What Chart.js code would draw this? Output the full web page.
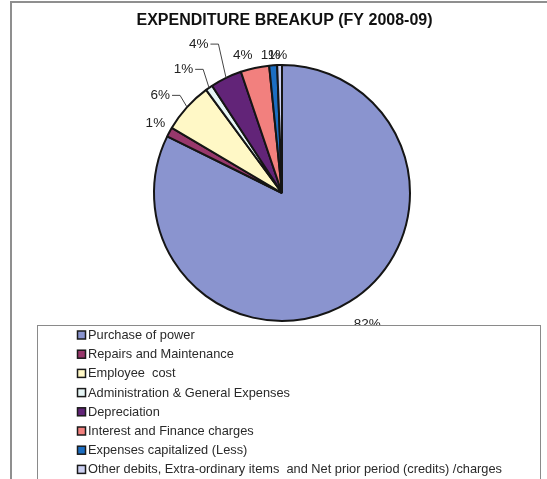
<!DOCTYPE html>
<html><head><meta charset="utf-8">
<script src="https://cdn.jsdelivr.net/npm/chart.js@4.4.0/dist/chart.umd.min.js"></script>
<style>html,body{margin:0;padding:0;background:#fff;}#wrap{width:547px;height:479px;position:relative;}</style>
</head><body><div id="wrap"><canvas id="c" width="547" height="479"></canvas></div>
<script>
const chartTitle = 'EXPENDITURE BREAKUP (FY 2008-09)';
const categories = [
  'Purchase of power',
  'Repairs and Maintenance',
  'Employee  cost',
  'Administration & General Expenses',
  'Depreciation',
  'Interest and Finance charges',
  'Expenses capitalized (Less)',
  'Other debits, Extra-ordinary items  and Net prior period (credits) /charges'
];
const shares = [82.3, 1.2, 6.4, 0.9, 4.0, 3.6, 1.0, 0.6];

// styles (kept apart from the data)
const sliceColors = ['#8A94CF', '#98386C', '#FFF8C6', '#E6F6F6', '#622478', '#F2807E', '#1C6EC2', '#CCD0F2'];
const labelGap   = [26, 16, 28, 31, 42, 15, 10, 10];
const labelNudge = [[4,0],[0,-1],[-6,7],[-8,7],[-9,4],[-9,2],[-2,0],[-2,0]];
const hasLeader  = [false,false,true,true,true,false,false,false];

const FONT = '"Liberation Sans", Arial, sans-serif';

const decor = {
  id: 'decor',
  afterDraw(chart) {
    const ctx = chart.ctx;
    const meta = chart.getDatasetMeta(0);
    const total = shares.reduce((a,b)=>a+b,0);
    ctx.save();
    // frame
    ctx.strokeStyle = '#8f8f8f';
    ctx.lineWidth = 2;
    ctx.beginPath();
    ctx.moveTo(11, 479); ctx.lineTo(11, 2); ctx.lineTo(547, 2);
    ctx.stroke();
    // title
    ctx.fillStyle = '#111';
    ctx.font = 'bold 16px ' + FONT;
    ctx.textAlign = 'center';
    ctx.textBaseline = 'alphabetic';
    ctx.fillText(chartTitle, 284.5, 25);
    // percentage labels
    ctx.font = '13.5px ' + FONT;
    ctx.textBaseline = 'middle';
    meta.data.forEach((arc, i) => {
      const p = arc.getProps(['x','y','startAngle','endAngle','outerRadius'], true);
      const mid = (p.startAngle + p.endAngle) / 2;
      const d = p.outerRadius + labelGap[i];
      const lx = p.x + Math.cos(mid) * d + labelNudge[i][0];
      const ly = p.y + Math.sin(mid) * d + labelNudge[i][1];
      const txt = Math.round(shares[i] / total * 100) + '%';
      ctx.fillStyle = '#222';
      ctx.fillText(txt, lx, ly);
      if (hasLeader[i]) {
        const w = ctx.measureText(txt).width;
        const sx = lx + w / 2 + 2;
        const ex = p.x + Math.cos(mid) * p.outerRadius;
        const ey = p.y + Math.sin(mid) * p.outerRadius;
        ctx.strokeStyle = '#444';
        ctx.lineWidth = 1;
        ctx.beginPath();
        ctx.moveTo(sx, ly); ctx.lineTo(sx + 8, ly); ctx.lineTo(ex, ey);
        ctx.stroke();
      }
    });
    // legend box
    ctx.fillStyle = '#fff';
    ctx.fillRect(37.5, 325.5, 503, 170);
    ctx.strokeStyle = '#8a8a8a';
    ctx.lineWidth = 1;
    ctx.strokeRect(37.5, 325.5, 503, 170);
    ctx.font = '12.8px ' + FONT;
    ctx.textAlign = 'left';
    ctx.textBaseline = 'middle';
    categories.forEach((name, i) => {
      const cy = 335 + i * 19.2;
      ctx.fillStyle = sliceColors[i];
      ctx.fillRect(77.5, cy - 4, 8, 8);
      ctx.strokeStyle = '#1a1a1a';
      ctx.lineWidth = 1.5;
      ctx.strokeRect(77.5, cy - 4, 8, 8);
      ctx.fillStyle = '#2a2a2a';
      ctx.fillText(name, 88, cy + 0.5);
    });
    ctx.restore();
  }
};

new Chart(document.getElementById('c'), {
  type: 'pie',
  data: {
    labels: categories,
    datasets: [{
      data: shares,
      backgroundColor: sliceColors,
      borderColor: '#151515',
      borderWidth: 2
    }]
  },
  options: {
    responsive: false,
    animation: false,
    layout: { padding: { left: 153, top: 64, right: 136, bottom: 157 } },
    plugins: { legend: { display: false }, tooltip: { enabled: false }, title: { display: false } }
  },
  plugins: [decor]
});
</script>
</body></html>
